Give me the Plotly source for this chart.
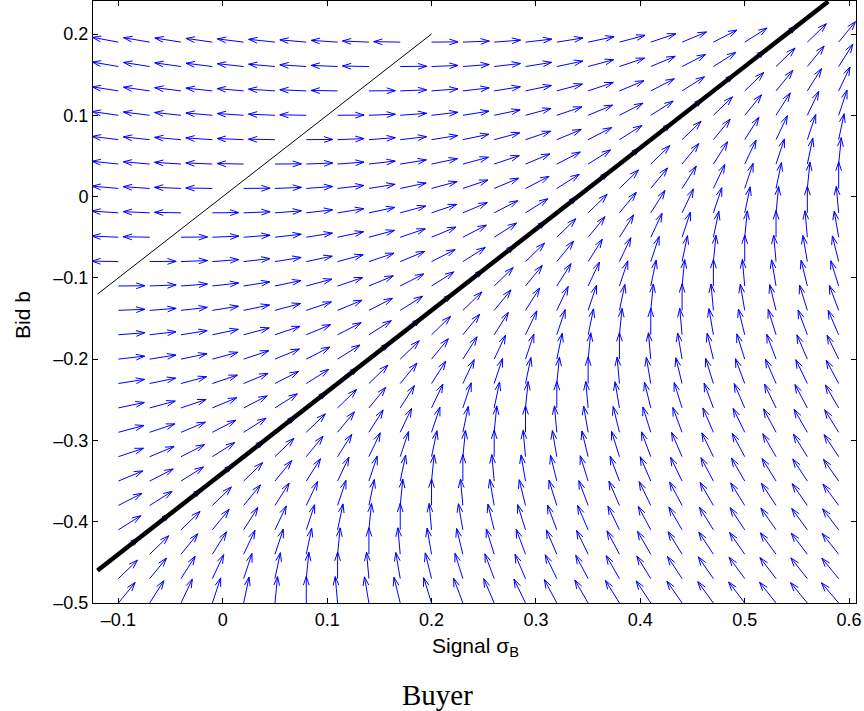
import numpy as np
import plotly.graph_objects as go

# ---- data ----
sigma_grid = [round(-0.10 + 0.03 * i, 2) for i in range(24)]   # quiver columns (signal)
bid_grid = [round(-0.50 + 0.03 * j, 2) for j in range(24)]     # quiver rows (bid)

# field structure
thin_offset = 0.0      # horizontal direction flips on b = sigma (thin line)
vert_offset = 0.58     # arrows vertical on b = sigma - 0.58
thick_offset = 0.34    # arrows run along b = sigma - 0.34 (thick line)

thick_sigma = [-0.12, 0.58]
thick_bid = [-0.46, 0.24]
thin_sigma = [-0.12, 0.20]
thin_bid = [-0.12, 0.20]

x_ticks = [-0.1, 0, 0.1, 0.2, 0.3, 0.4, 0.5, 0.6]
y_ticks = [-0.5, -0.4, -0.3, -0.2, -0.1, 0, 0.1, 0.2]

# ---- layout geometry ----
W, H = 864, 711
ML, MR, MT, MB = 93, 8, 1, 108
XR = [-0.1243, 0.6066]
YR = [-0.5, 0.2406]
pw = W - ML - MR
ph = H - MT - MB
sx = pw / (XR[1] - XR[0])   # px per unit
sy = ph / (YR[1] - YR[0])

L = 26.5  # arrow length in px
alpha, beta = 0.33, 0.33

ax, ay = [], []
K = (vert_offset - thick_offset) / thick_offset
for s in sigma_grid:
    for b in bid_grid:
        d = s - b - thin_offset
        u = d * (vert_offset - d)
        v = K * d * d
        pu, pv = u * sx, v * sy
        n = np.hypot(pu, pv)
        if n == 0:
            continue
        pu, pv = pu / n * L, pv / n * L
        tx, ty = s + pu / sx, b + pv / sy
        ax += [s, tx, None]
        ay += [b, ty, None]
        h1x = pu - alpha * (pu + beta * pv)
        h1y = pv - alpha * (pv - beta * pu)
        h2x = pu - alpha * (pu - beta * pv)
        h2y = pv - alpha * (pv + beta * pu)
        ax += [s + h1x / sx, tx, s + h2x / sx, None]
        ay += [b + h1y / sy, ty, b + h2y / sy, None]

fig = go.Figure()
fig.add_trace(go.Scatter(x=ax, y=ay, mode="lines",
                         line=dict(color="#0000ff", width=1),
                         hoverinfo="skip", showlegend=False))
fig.add_trace(go.Scatter(x=thin_sigma, y=thin_bid, mode="lines",
                         line=dict(color="black", width=1),
                         hoverinfo="skip", showlegend=False))
fig.add_trace(go.Scatter(x=thick_sigma, y=thick_bid, mode="lines",
                         line=dict(color="black", width=4.5),
                         hoverinfo="skip", showlegend=False))

def fmt(t):
    s = ("%g" % t)
    return s.replace("-", "\u2013")

tickfont = dict(family="Liberation Sans, Arial, sans-serif", size=18, color="black")
fig.update_xaxes(range=XR, tickvals=x_ticks, ticktext=[fmt(t) for t in x_ticks],
                 ticks="inside", ticklen=5, tickcolor="black", showline=True,
                 linecolor="black", linewidth=1, mirror="ticks", showgrid=False,
                 zeroline=False, tickfont=tickfont)
fig.update_yaxes(range=YR, tickvals=y_ticks, ticktext=[fmt(t) for t in y_ticks],
                 ticks="inside", ticklen=5, tickcolor="black", showline=True,
                 linecolor="black", linewidth=1, mirror="ticks", showgrid=False,
                 zeroline=False, tickfont=tickfont)

titlefont = dict(family="Liberation Sans, Arial, sans-serif", size=21, color="black")
fig.update_layout(
    width=W, height=H,
    margin=dict(l=ML, r=MR, t=MT, b=MB),
    plot_bgcolor="white", paper_bgcolor="white",
    annotations=[
        dict(text="Signal \u03c3<sub>B</sub>", xref="paper", yref="paper",
             x=(475 - ML) / pw, y=-(647 - (H - MB)) / ph, xanchor="center", yanchor="middle",
             showarrow=False, font=titlefont),
        dict(text="Bid b", xref="paper", yref="paper", textangle=-90,
             x=(22 - ML) / pw, y=((H - MB) - 315) / ph, xanchor="center", yanchor="middle",
             showarrow=False, font=titlefont),
        dict(text="Buyer", xref="paper", yref="paper",
             x=(437 - ML) / pw, y=-(695 - (H - MB)) / ph, xanchor="center", yanchor="middle",
             showarrow=False, font=dict(family="Liberation Serif, serif", size=29, color="black")),
    ],
)
fig.write_html("out.html")
